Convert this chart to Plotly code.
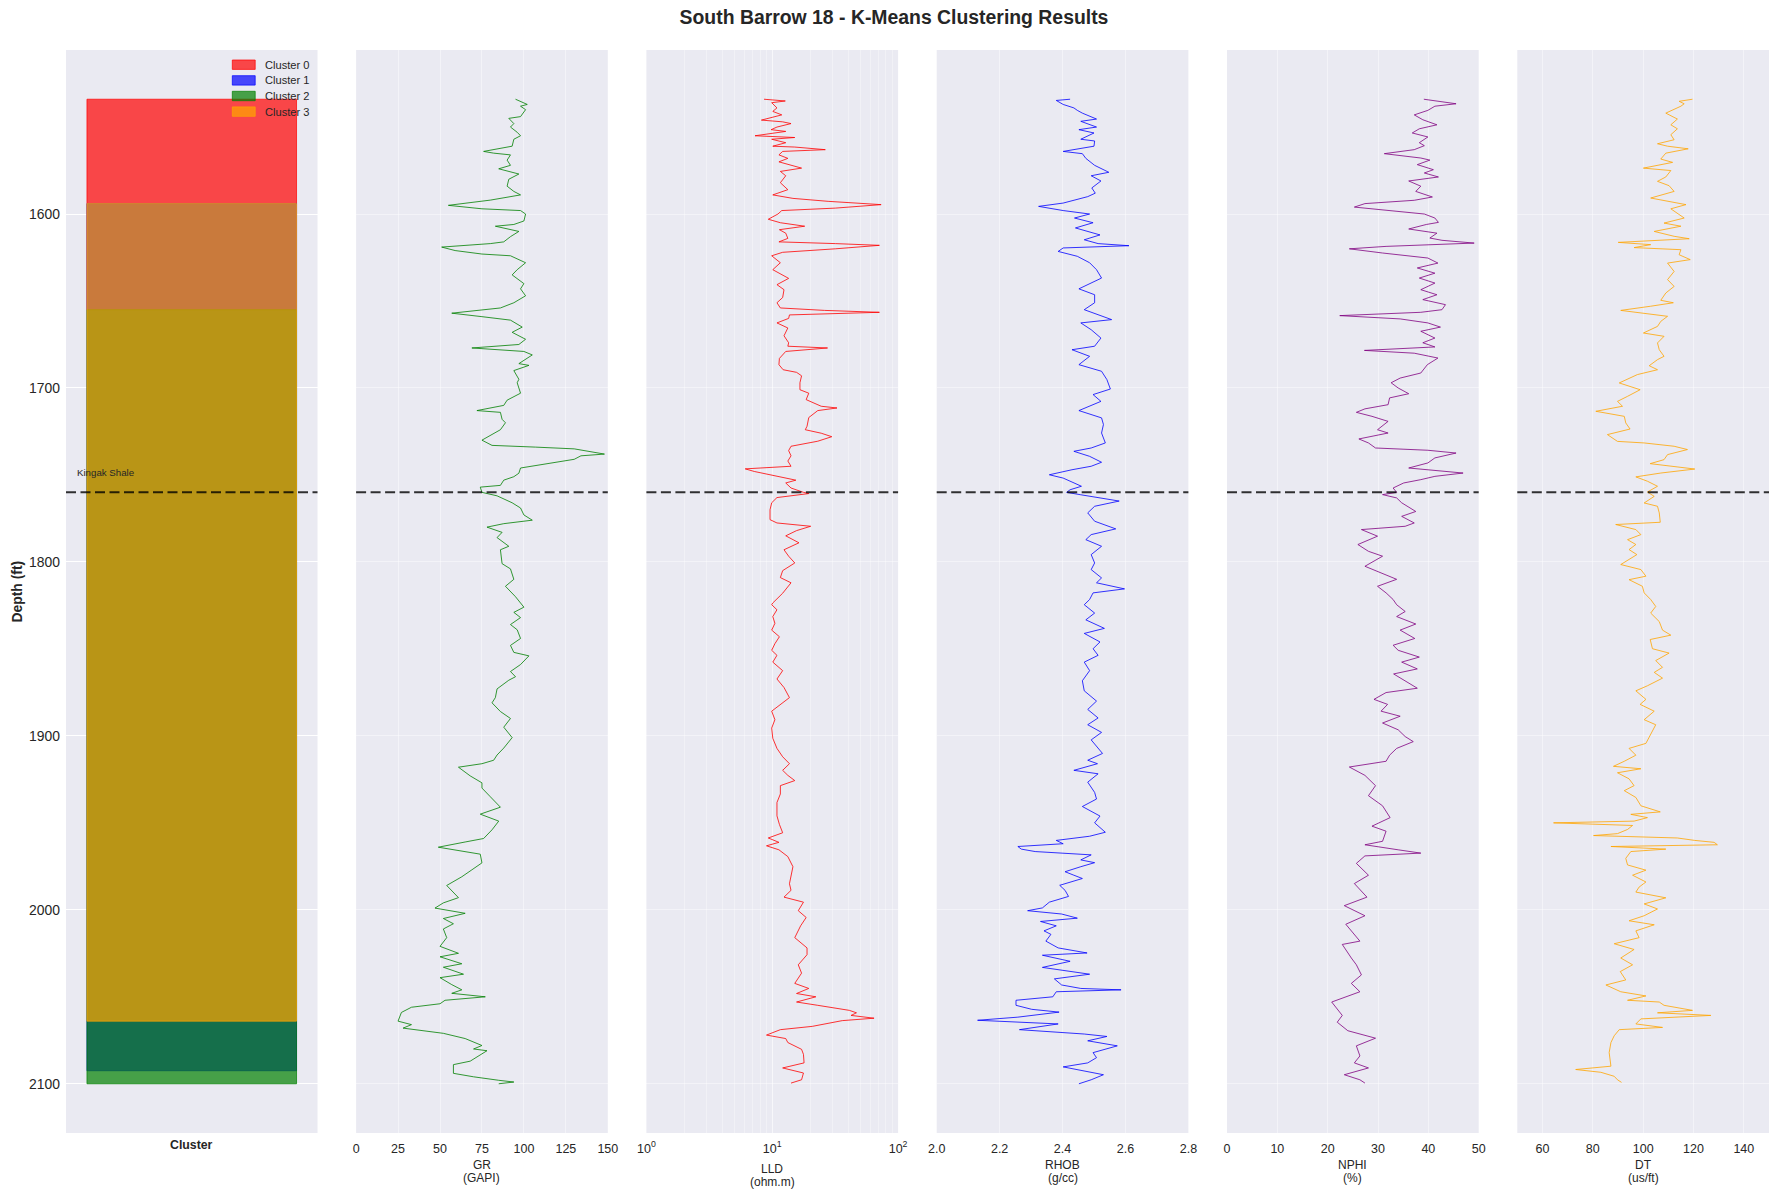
import plotly.graph_objects as go

# ---------------- data ----------------
TITLE = "South Barrow 18 - K-Means Clustering Results"
FORMATION_NAME = "Kingak Shale"
FORMATION_TOP = 1760
DEPTH_TICKS = [1600, 1700, 1800, 1900, 2000, 2100]

CLUSTER_NAMES = ["Cluster 0", "Cluster 1", "Cluster 2", "Cluster 3"]
CLUSTER_RGB = [(255, 0, 0), (0, 0, 255), (0, 128, 0), (255, 165, 0)]
CLUSTER_TOP = [1534, 1594, 1655, 1594]
CLUSTER_BASE = [1655, 2092.5, 2100, 2064]

# (depth ft, value) pairs
GR_LOG = [(1534,95),(1537,102),(1538,98),(1540,101),(1544,98),(1545,91),(1548,94),(1550,92),(1553,96),(1555,98),
(1557,94),(1561,93),(1564,76),(1565,82),(1566,92),(1569,90),(1572,92),(1574,85),(1577,97),(1580,91),
(1584,90),(1587,94),(1589,98),(1592,80),(1595,55),(1597,75),(1598,98),(1600,101),(1604,100),(1606,94),
(1607,83),(1610,97),(1613,92),(1616,88),(1617,80),(1619,51),(1621,59),(1623,75),(1624,92),(1628,101),
(1632,96),(1635,93),(1640,100),(1643,98),(1647,101),(1651,94),(1654,86),(1657,57),(1659,75),(1661,92),
(1665,99),(1668,93),(1672,101),(1675,97),(1677,69),(1679,100),(1681,105),(1686,97),(1687,103),(1690,94),
(1695,97),(1697,96),(1703,98),(1707,90),(1710,88),(1713,72),(1714,86),(1718,87),(1720,89),(1724,86),
(1730,75),(1733,81),(1734,107),(1735,130),(1738,148),(1739,134),(1741,130),(1744,110),(1746,98),(1749,97),
(1751,94),(1753,88),(1756,86),(1757,74),(1760,75),(1762,84),(1766,93),(1769,98),(1773,100),(1776,105),
(1778,88),(1780,78),(1783,87),(1786,84),(1791,91),(1793,86),(1801,87),(1804,92),(1810,94),(1814,89),(1820,95),
(1826,100),(1829,94),(1832,98),(1836,92),(1839,96),(1844,98),(1848,92),(1852,94),(1854,103),(1859,98),
(1863,92),(1866,95),(1868,91),(1873,84),(1878,83),(1881,81),(1886,86),(1890,92),(1895,88),(1901,93),
(1907,88),(1911,84),(1914,82),(1916,75),(1918,61),(1923,68),(1927,75),(1930,75),(1935,80),(1941,86),
(1945,74),(1949,85),(1954,81),(1959,76),(1961,65),(1964,49),(1968,74),(1973,75),(1977,69),(1981,63),
(1986,54),(1993,61),(1996,52),(1999,47),(2002,65),(2005,52),(2008,58),(2011,52),(2016,54),(2021,50),
(2025,61),(2027,50),(2031,63),(2033,52),(2037,64),(2039,50),(2043,57),(2046,63),(2048,57),(2050,77),
(2052,53),(2054,50),(2056,33),(2059,27),(2064,25),(2066,33),(2068,28),(2071,52),(2074,65),(2078,75),
(2080,70),(2081,78),(2087,68),(2089,58),(2094,58),(2096,70),(2098,85),(2099,94),(2100,85)]

LLD_LOG = [(1534,8.6),(1535,12.7),(1536,9.9),(1539,10.9),(1541,10.1),(1543,11.9),(1546,8.2),(1547,12.1),(1548,14.1),(1550,10.9),
(1551.5,9.8),(1552.5,12.8),(1555,7.3),(1556,15.1),(1557,9.9),(1559,12.8),(1561,10.1),(1561.5,15.1),(1563,26.4),(1564,12.1),
(1566,11.3),(1568,13.3),(1570,11.3),(1573.6,17.1),(1575.5,11.6),(1578,12.8),(1582,11.6),(1586,13.3),(1589,10.1),(1591,14.6),
(1592.7,27.8),(1594.6,73.3),(1596.6,31.7),(1598,11.9),(1600,11.1),(1603,9.3),(1605,11.6),(1607,18.1),(1609,11.4),(1611,12.8),
(1614,13.3),(1616,11.3),(1617,31.7),(1618,71),(1620,31.7),(1622,12.1),(1624,9.9),(1628,11.6),(1632,10.1),(1637,13.5),
(1640.6,10.9),(1643.5,12.4),(1648,12.1),(1651,10.9),(1654,11.6),(1655.4,26),(1656.5,71),(1658,13.7),(1660,13.5),(1662.6,10.9),
(1665.5,13.3),(1670,12.4),(1674,13.5),(1676,13.3),(1677,27.5),(1679,12.8),(1683,11.4),(1686.6,11.3),(1689.5,12.2),(1691,15.6),
(1693,17.1),(1697,16.6),(1701,16.6),(1703,19.5),(1706.7,18.6),(1708.6,21.5),(1710.5,24.5),(1711.5,32.7),(1713,23),(1717,19.5),
(1722,18.9),(1724,18.3),(1726,24.5),(1728,29.7),(1730.6,23),(1733.5,14.1),(1736,13.5),(1739,14.1),(1742,13.3),(1745,14.1),
(1746.5,6.1),(1748,7.2),(1751,11.3),(1753,15.4),(1754.6,12.8),(1757.5,14.1),(1760,17.7),(1760.7,19.5),(1763,10.9),(1766,9.9),
(1770,9.6),(1775.7,9.6),(1777.6,10.9),(1779.5,20.2),(1782,15.6),(1785,12.8),(1789,16.3),(1793,12.4),(1796.7,13.5),(1800.6,15.1),
(1805,12.1),(1809,11.6),(1812,14.1),(1818,12.1),(1823.6,10.1),
(1824.6,9.9),(1827.5,10.9),(1831.4,10.1),(1835.3,10.5),(1839.2,9.9),(1843,11.4),(1847,10.5),(1850.8,9.9),(1853.7,10.9),(1857.6,10.1),
(1862.5,12.1),(1867.3,10.9),(1872.2,12.4),(1878,13.7),(1882,11.6),(1885.8,9.9),(1890.7,10.5),(1895.5,9.9),(1901.4,10.1),(1907.2,10.9),
(1912,12.1),(1916,13.7),(1919.8,12.1),(1922.7,13.3),(1925.7,15.1),(1928.6,11.6),(1933.4,11.6),(1938.3,10.9),(1946,10.9),(1950.9,11.4),
(1955.7,12.1),(1958.7,9.3),(1961.2,11.3),(1963.2,9.0),(1965.5,11.3),(1969.4,13.3),(1975.2,14.6),(1980,14.1),(1985,13.7),(1988.8,14.1),
(1992.7,12.4),(1995.6,17.7),(2000.5,16.1),(2004.4,18.6),(2009.2,16.8),(2016,15.1),(2021.9,18.9),(2025.8,18.9),(2031.6,16.1),(2036.4,17.1),
(2042.3,15.1),(2045.2,19.5),(2048.1,15.6),(2050,22.2),(2053,15.6),(2054.9,23),(2057.8,41),(2059.2,46.7),(2060.7,42.3),(2062.3,64.4),
(2063.7,36),(2067,20.8),(2068.9,11.6),(2072,9.0),(2074,12.8),(2076.3,13.3),(2080.2,17.1),(2083.1,17.7),(2088,17.9),(2090.9,12.1),
(2093.8,17.7),(2097.7,17.1),(2099.6,14.1)]

RHOB_LOG = [(1534,2.424),(1534.7,2.38),(1537,2.402),(1539,2.436),(1540.4,2.447),(1542,2.463),(1545.4,2.508),(1546.7,2.458),(1550,2.508),(1551.5,2.452),
(1553.4,2.50),(1557,2.458),(1558,2.502),(1561,2.50),(1564,2.402),(1565.3,2.463),(1568,2.474),(1572,2.502),(1576,2.547),(1578,2.491),
(1581,2.522),(1585,2.493),(1588,2.504),(1590,2.48),(1593.7,2.402),(1595.6,2.324),(1598,2.402),(1600,2.486),(1602.3,2.438),(1605,2.497),
(1608,2.441),(1612,2.519),(1614.8,2.469),(1617,2.513),(1618.2,2.611),(1619.5,2.402),(1621.5,2.386),(1624.3,2.447),(1628,2.486),(1632,2.508),
(1636.8,2.524),(1639.7,2.491),(1643,2.452),(1646.4,2.502),(1651,2.502),(1655,2.469),(1660.7,2.556),(1662.6,2.458),(1666.5,2.491),(1671.3,2.522),
(1676,2.502),(1678,2.43),(1681.8,2.486),(1686.6,2.452),(1690.4,2.524),(1695.2,2.541),(1700.6,2.552),(1703.8,2.497),(1707.7,2.522),(1713,2.452),
(1717.2,2.524),(1721,2.53),(1725.9,2.524),(1731.6,2.536),(1734.5,2.491),(1736.4,2.436),(1739.3,2.486),(1742.7,2.524),(1745,2.491),(1747,2.43),
(1749.9,2.358),(1751.8,2.402),(1754.6,2.436),(1756.5,2.46),(1758.5,2.424),(1760,2.413),(1761.4,2.458),(1763.2,2.524),(1765,2.58),(1768,2.502),
(1771.8,2.48),(1776.6,2.502),(1781,2.569),(1784.3,2.491),(1787.2,2.474),(1791,2.524),(1795.8,2.491),(1800.6,2.502),(1804.4,2.491),(1809.2,2.524),
(1812,2.508),(1815.5,2.597),(1817.8,2.497),(1821.6,2.486),
(1824.6,2.469),(1829.4,2.502),(1833.3,2.474),(1838.2,2.533),(1841.1,2.469),(1846,2.519),(1849.9,2.497),(1853.7,2.513),(1857.6,2.469),(1862.5,2.486),
(1868.3,2.463),(1874.1,2.469),(1880,2.508),(1884.8,2.48),(1889.7,2.513),(1893.6,2.48),(1898,2.524),(1902.3,2.491),(1910.1,2.527),(1914,2.48),
(1916,2.511),(1919.8,2.436),(1921.8,2.513),(1926.6,2.48),(1932.5,2.502),(1936.3,2.508),(1940.6,2.463),(1946.1,2.519),(1950,2.502),(1955.4,2.536),
(1957.7,2.486),(1960.1,2.38),(1962,2.402),(1963.6,2.258),(1965.1,2.269),(1966.5,2.313),(1968.4,2.491),(1971.3,2.458),(1972.9,2.502),(1975.2,2.458),
(1978.1,2.408),(1980.1,2.436),(1982,2.463),(1985.9,2.391),(1988.8,2.408),(1992.3,2.419),(1995.6,2.358),(1998.9,2.336),(2000.5,2.289),(2002.4,2.397),
(2004.8,2.447),(2006.7,2.33),(2009.2,2.38),(2012.1,2.341),(2014.1,2.363),(2018,2.347),(2021.9,2.386),(2024.8,2.478),(2026.1,2.336),(2029.6,2.424),
(2033.1,2.336),(2037,2.486),(2039.7,2.374),(2043.2,2.397),(2045.2,2.458),(2046,2.586),(2047.1,2.38),(2050,2.369),(2052,2.252),(2054.9,2.252),
(2057.2,2.302),(2058.8,2.389),(2061.7,2.258),(2063.5,2.13),(2065.6,2.386),(2068.9,2.263),(2071.4,2.469),(2072.8,2.541),(2075.3,2.48),(2078.2,2.574),
(2082.1,2.497),(2085,2.508),(2088,2.48),(2090.3,2.402),(2092.8,2.48),(2094.8,2.53),(2097.7,2.491),(2100,2.452)]

NPHI_LOG = [(1534,39.1),(1536.6,45.5),(1538,41.3),(1540.4,39.9),(1543,37.2),(1545.8,38.9),(1548.7,41.7),(1551,38.2),(1553.4,36.8),(1555.7,39.9),
(1559,38.2),(1560.7,39.2),(1563,37.2),(1565.3,31.25),(1567.8,38.5),(1569,40.3),(1571.6,37.8),(1574.5,41),(1576.4,39.2),(1578.7,42),
(1581,36.1),(1584,38.5),(1587,37.5),(1590.2,40.8),(1592.1,37.2),(1594,27.4),(1596,25.3),(1597.5,30.9),(1600,39.2),(1602.3,41.3),
(1604.8,42),(1606,39.6),(1608.6,36.1),(1611,41.7),(1613.8,40.3),(1615.1,42.7),(1616.7,49.1),(1618.6,31.6),(1620,24.3),(1622.4,30.9),
(1625.3,39.9),(1628.2,41.9),(1631,37.8),(1634,41.3),(1636.8,38.2),(1639.7,41.3),(1643.5,38.5),(1646.4,41.7),(1649.2,38.9),(1652.1,43.4),
(1655,42.7),(1656.5,38.5),(1658.4,22.4),(1660.3,34.4),(1662.6,39.9),(1665,42.4),(1667.4,38.5),(1671.3,41.3),(1674,38.9),(1676.4,41.3),
(1678.4,27.3),(1680,37.2),(1682.8,41.9),(1686.6,39.8),(1691.4,38.5),(1694.3,34.4),(1697,32.6),(1700,34),(1703.3,36.1),(1705.7,32.3),
(1709.6,32),(1712,27.4),(1714,25.7),(1716.3,28.8),(1719.2,32),(1724,29.9),(1725.9,32),(1729.3,26.2),(1731.6,28.1),(1734.5,29.5),
(1735.8,39.9),(1737.4,45.5),(1740.2,41.3),(1743.1,39.9),(1746,36.1),(1748.9,46.9),(1750.8,41.3),(1752.7,38.5),(1754.6,35.1),(1757.5,33),
(1760,33.7),(1761.3,30.9),(1763.2,33.7),(1766,34.7),(1771,37.5),(1773.8,34.7),(1777.6,37.2),(1779.5,35.4),(1781.4,26.7),(1785.2,29.9),
(1790,26),(1793.9,28.1),(1796.7,30.9),(1802.5,27.4),(1805.4,29.9),(1810,33.7),(1814,29.9),(1817.8,31.6),(1821.6,33),
(1824.6,33.7),(1828.5,35.4),(1831.4,33.7),(1835.7,37.5),(1839.2,34.4),(1844,37.3),(1847.9,33),(1850.8,34),(1854.7,38.2),(1857.6,34.7),
(1861.5,37.8),(1864.4,33.1),(1868.3,35.4),(1872.6,37.8),(1875.1,31.6),(1879,29.2),(1881.9,31.9),(1885.8,30.6),(1888.7,34.4),(1892.6,30.9),
(1896.5,34),(1900.4,35.4),(1903.3,37),(1907.2,33.7),(1911.1,32.3),(1914.6,31.6),(1917.9,24.3),(1922.7,27.4),(1928.6,29.5),(1934.4,28.1),
(1940.2,30.9),(1947,32.4),(1951.9,28.8),(1954.8,31.6),(1960.6,30.9),(1962.6,27.4),(1965.5,34),(1967.4,38.5),(1969,27.4),(1973.3,25.7),
(1980.1,28.1),(1984.9,25.3),(1992.7,27.8),(1997.6,23.3),(2003.4,27.4),(2008.3,23.6),(2018,26.4),(2019.9,22.9),(2027.7,24.7),(2031.6,25.7),
(2037.4,26.7),(2042.3,24.7),(2047.1,26.4),(2053,20.8),(2060.7,22.9),(2064.6,21.9),(2069.5,24),(2073.8,29.5),(2078.2,25.7),(2084,26.4),
(2088,25.3),(2090.9,28.1),(2094.8,23.3),(2097.7,26.4),(2099.6,27.4)]

DT_LOG = [(1534,119.6),(1535.2,114.3),(1536.6,116.3),(1538,115),(1542,109),(1545.4,113.6),(1548.7,111),(1551,113.6),(1554.4,111),(1557.3,112.3),
(1559.6,105.7),(1561,109.7),(1562.5,117.9),(1565,109),(1568.4,107),(1570.3,111.7),(1573.6,100.1),(1575,111),(1578.7,109),(1581.2,105.7),
(1583.7,110.3),(1587,112.3),(1590.8,103),(1592.7,109.7),(1594.6,117),(1597,111),(1602.3,116.3),(1605.2,108.3),(1607,115),(1610,104.4),
(1612.8,112.3),(1614.2,118.3),(1616.3,90.1),(1617.6,103),(1619.3,96.4),(1620.5,115),(1623.4,114.3),(1626.2,118.7),(1628.2,109.7),(1633,112.3),
(1637.7,109.7),(1641.6,112.3),(1645.4,109),(1649.6,107),(1651,112),(1653,103),(1655.4,91.1),(1658.8,109.7),(1661.7,107),(1664.6,105.7),
(1668.4,100.1),(1670.3,108.3),(1674.1,105.7),(1678,106.4),(1681.8,108.3),(1683.7,105.7),(1687.2,102.4),(1689.5,105.7),(1692.3,97.7),(1697.1,90.5),
(1701,98.8),(1704.8,93.8),(1707.7,89.8),(1710.5,91.8),(1713.4,81.2),(1716.3,92.5),(1720.1,93.1),(1723.6,94.8),(1726.8,85.8),(1730.7,89.8),
(1731.6,100.4),(1733.5,112.3),(1735.4,117.6),(1738.3,109.7),(1741.2,108.3),(1743.5,102.8),(1745.4,113.6),(1746.6,120.5),(1748.9,107),(1751.1,97.1),
(1753.6,101.7),(1756.5,105.7),(1759.8,101.7),(1762.3,104.4),(1766.1,100.4),(1768,105.7),(1771.8,106.4),(1777.2,106.8),(1778.5,89.1),(1781.4,97.1),
(1784.3,99.1),(1787.2,93.8),(1790,97.1),(1792.9,94.4),(1795.8,97.5),(1801.5,91.1),(1804.4,99.1),(1808.2,101.1),(1810.2,94.4),(1814,99.7),
(1817.8,100.4),(1821.6,103),
(1825.6,105),(1829.4,103),(1834.3,106.4),(1839.2,107.7),(1842.1,111),(1844.6,102.8),(1849.9,103.7),(1852.4,110.3),(1856.7,105),(1860.6,107.7),
(1863.5,104.4),(1866.8,107.7),(1871.2,101.7),(1874.1,97.1),(1879,101.1),(1881.9,98.8),(1885.8,104.4),(1890.7,100.4),(1893.6,105),(1899.4,103),
(1904.3,101.1),(1907.2,94.4),(1911.1,97.1),(1914.6,92.5),(1917.5,88.2),(1918.9,99.1),(1921.2,89.8),(1924.7,94.4),(1928.6,96.4),(1931.5,92.5),
(1935.4,97.1),(1940.2,99.1),(1943.7,106.8),(1945.1,95.1),(1947,101.7),(1949,96.4),(1950,64.4),(1951.5,95.8),(1953.8,93.8),(1956.2,89.8),
(1957.3,80.3),(1958.7,113.6),(1960.1,120.5),(1961.2,128.2),(1962.6,129.5),(1963.6,87.2),(1965.1,109),(1966.5,95.1),(1970.4,93.1),(1974.2,93.8),
(1977.2,101.1),(1980.1,95.8),(1984,101.1),(1986.9,98.4),(1989.8,97.1),(1993.1,109),(1996.6,100.4),(1999.5,105.7),(2003.4,100.4),(2006.3,94.4),
(2008.6,104.4),(2012.1,97.1),(2016,98.4),(2019.5,88.5),(2022.8,96.4),(2027.7,91.1),(2031.6,95.8),(2035.5,90.9),(2040.3,93.1),(2043.2,85.2),
(2047.1,91.1),(2049.5,101.1),(2052,93.8),(2053,106.4),(2054.9,108.3),(2057.8,119.6),(2059.2,105.7),(2060.7,126.9),(2062.7,99.1),(2065.6,97.1),
(2067.6,107.7),(2068.9,90.5),(2072.4,88.5),(2076.3,87.2),(2082.1,86.5),(2089.9,87.2),(2091.8,73.2),(2093.4,83.2),(2095.7,88.5),(2097.7,89.8),
(2099.2,91.4)]

GR_TICKS = [0, 25, 50, 75, 100, 125, 150]
LLD_TICKS = [1, 10, 100]
RHOB_TICKS = [2.0, 2.2, 2.4, 2.6, 2.8]
NPHI_TICKS = [0, 10, 20, 30, 40, 50]
DT_TICKS = [60, 80, 100, 120, 140]

TRACKS = [
    dict(name="GR", unit="(GAPI)", data=GR_LOG, color="green", range=[0, 150], ticks=GR_TICKS,
         labels=[str(t) for t in GR_TICKS], log=False),
    dict(name="LLD", unit="(ohm.m)", data=LLD_LOG, color="red", range=[0, 2], ticks=LLD_TICKS,
         labels=["10<sup>0</sup>", "10<sup>1</sup>", "10<sup>2</sup>"], log=True),
    dict(name="RHOB", unit="(g/cc)", data=RHOB_LOG, color="blue", range=[2.0, 2.8], ticks=RHOB_TICKS,
         labels=["%.1f" % t for t in RHOB_TICKS], log=False),
    dict(name="NPHI", unit="(%)", data=NPHI_LOG, color="purple", range=[0, 50], ticks=NPHI_TICKS,
         labels=[str(t) for t in NPHI_TICKS], log=False),
    dict(name="DT", unit="(us/ft)", data=DT_LOG, color="orange", range=[50, 150], ticks=DT_TICKS,
         labels=[str(t) for t in DT_TICKS], log=False),
]

# ---------------- layout geometry ----------------
W, H = 1778, 1198
ML, MR, MT, MB = 66, 9, 50, 65
PW, PH = W - ML - MR, H - MT - MB
PANEL_W, STEP, X0 = 251.7, 290.3, 65.8
YRANGE = [2128.3, 1505.7]
FONT = "Liberation Sans, Arial, sans-serif"
TXT = "#262626"
BG = "#EAEAF2"


def dom(i):
    a = (X0 + i * STEP - ML) / PW
    b = a + PANEL_W / PW
    return [max(0.0, a), min(1.0, b)]


def py(Y):  # pixel row -> paper y
    return (H - MB - Y) / PH


def px(X):  # pixel column -> paper x
    return (X - ML) / PW


fig = go.Figure()

# cluster track
for name, rgb, top, base in zip(CLUSTER_NAMES, CLUSTER_RGB, CLUSTER_TOP, CLUSTER_BASE):
    c = "rgba(%d,%d,%d,0.7)" % rgb
    fig.add_trace(go.Scatter(x=[0, 1, 1, 0, 0], y=[top, top, base, base, top], mode="lines",
                             fill="toself", fillcolor=c, line=dict(color=c, width=1),
                             name=name, showlegend=False, xaxis="x", yaxis="y",
                             hoverinfo="skip"))

# log tracks
for i, tr in enumerate(TRACKS, start=2):
    d = [p[0] for p in tr["data"]]
    v = [p[1] for p in tr["data"]]
    fig.add_trace(go.Scatter(x=v, y=d, mode="lines", line=dict(color=tr["color"], width=0.8),
                             name=tr["name"], showlegend=False, xaxis="x%d" % i, yaxis="y%d" % i))

layout = dict(
    width=W, height=H, margin=dict(l=ML, r=MR, t=MT, b=MB, autoexpand=False),
    paper_bgcolor="white", plot_bgcolor=BG, showlegend=False,
    font=dict(family=FONT, color=TXT),
    title=dict(text="<b>%s</b>" % TITLE, x=894 / W, xref="container", xanchor="center",
               y=1 - 17 / H, yref="container", yanchor="middle",
               font=dict(size=19.4, family=FONT, color=TXT)),
)

layout["xaxis"] = dict(domain=dom(0), anchor="y", range=[-0.1, 1.1], showticklabels=False,
                       showgrid=False, zeroline=False, showline=False, ticks="", automargin=False)
layout["yaxis"] = dict(domain=[0, 1], anchor="x", range=YRANGE, tickvals=DEPTH_TICKS,
                       showgrid=True, gridcolor="white", gridwidth=1, zeroline=False,
                       showline=False, ticks="", ticklabelstandoff=5, automargin=False,
                       tickfont=dict(size=13.9, family=FONT, color=TXT))

FAINT = "rgba(255,255,255,0.45)"
for i, tr in enumerate(TRACKS, start=2):
    xa = dict(domain=dom(i - 1), anchor="y%d" % i, range=tr["range"], tickvals=tr["ticks"],
              ticktext=tr["labels"], showgrid=True, gridcolor=FAINT, gridwidth=1,
              zeroline=False, showline=False, ticks="", ticklabelstandoff=6, automargin=False,
              tickfont=dict(size=12.5, family=FONT, color=TXT))
    if tr["log"]:
        xa["type"] = "log"
        xa["minor"] = dict(dtick="D1", showgrid=True, gridcolor="rgba(255,255,255,0.35)",
                           gridwidth=0.8, ticks="")
    layout["xaxis%d" % i] = xa
    layout["yaxis%d" % i] = dict(domain=[0, 1], anchor="x%d" % i, matches="y", range=YRANGE,
                                 tickvals=DEPTH_TICKS, showticklabels=False, showgrid=True,
                                 gridcolor=FAINT, gridwidth=1, zeroline=False, showline=False,
                                 ticks="", automargin=False)

shapes = []
annotations = []

# formation top dashed line on every track
for i in range(1, 7):
    xr = "x" if i == 1 else "x%d" % i
    yr = "y" if i == 1 else "y%d" % i
    shapes.append(dict(type="line", xref=xr + " domain", yref=yr, x0=0, x1=1,
                       y0=FORMATION_TOP, y1=FORMATION_TOP,
                       line=dict(color="rgba(0,0,0,0.8)", width=2, dash="10px,4.5px")))

annotations.append(dict(text=FORMATION_NAME, xref="x", yref="y", x=-0.056, y=1748.3,
                        xanchor="left", yanchor="middle", showarrow=False,
                        font=dict(size=9.7, family=FONT, color=TXT)))

# manual legend (cluster patches)
LEG_ROWS = [64.7, 80.4, 96.0, 111.6]
for name, rgb, yc in zip(CLUSTER_NAMES, CLUSTER_RGB, LEG_ROWS):
    c = "rgba(%d,%d,%d,0.7)" % rgb
    shapes.append(dict(type="rect", xref="paper", yref="paper", x0=px(232.3), x1=px(255.2),
                       y0=py(yc + 4.7), y1=py(yc - 4.7), fillcolor=c,
                       line=dict(color=c, width=1)))
    annotations.append(dict(text=name, xref="paper", yref="paper", x=px(262.5), y=py(yc),
                            xanchor="left", yanchor="middle", showarrow=False,
                            font=dict(size=11.1, family=FONT, color=TXT)))

# axis labels
annotations.append(dict(text="<b>Cluster</b>", xref="x domain", yref="paper", x=0.5, y=py(1144.7),
                        xanchor="center", yanchor="middle", showarrow=False,
                        font=dict(size=12.3, family=FONT, color=TXT)))
annotations.append(dict(text="<b>Depth (ft)</b>", xref="paper", yref="paper", x=px(16), y=0.5,
                        xanchor="center", yanchor="middle", textangle=-90, showarrow=False,
                        font=dict(size=13.9, family=FONT, color=TXT)))
for i, tr in enumerate(TRACKS, start=2):
    shift = 4.5 if tr["log"] else 0.0
    for txt, Y in ((tr["name"], 1164.5 + shift), (tr["unit"], 1177.5 + shift)):
        annotations.append(dict(text=txt, xref="x%d domain" % i, yref="paper", x=0.5, y=py(Y),
                                xanchor="center", yanchor="middle", showarrow=False,
                                font=dict(size=12, family=FONT, color=TXT)))

layout["shapes"] = shapes
layout["annotations"] = annotations
fig.update_layout(**layout)

fig.write_html("out.html")
